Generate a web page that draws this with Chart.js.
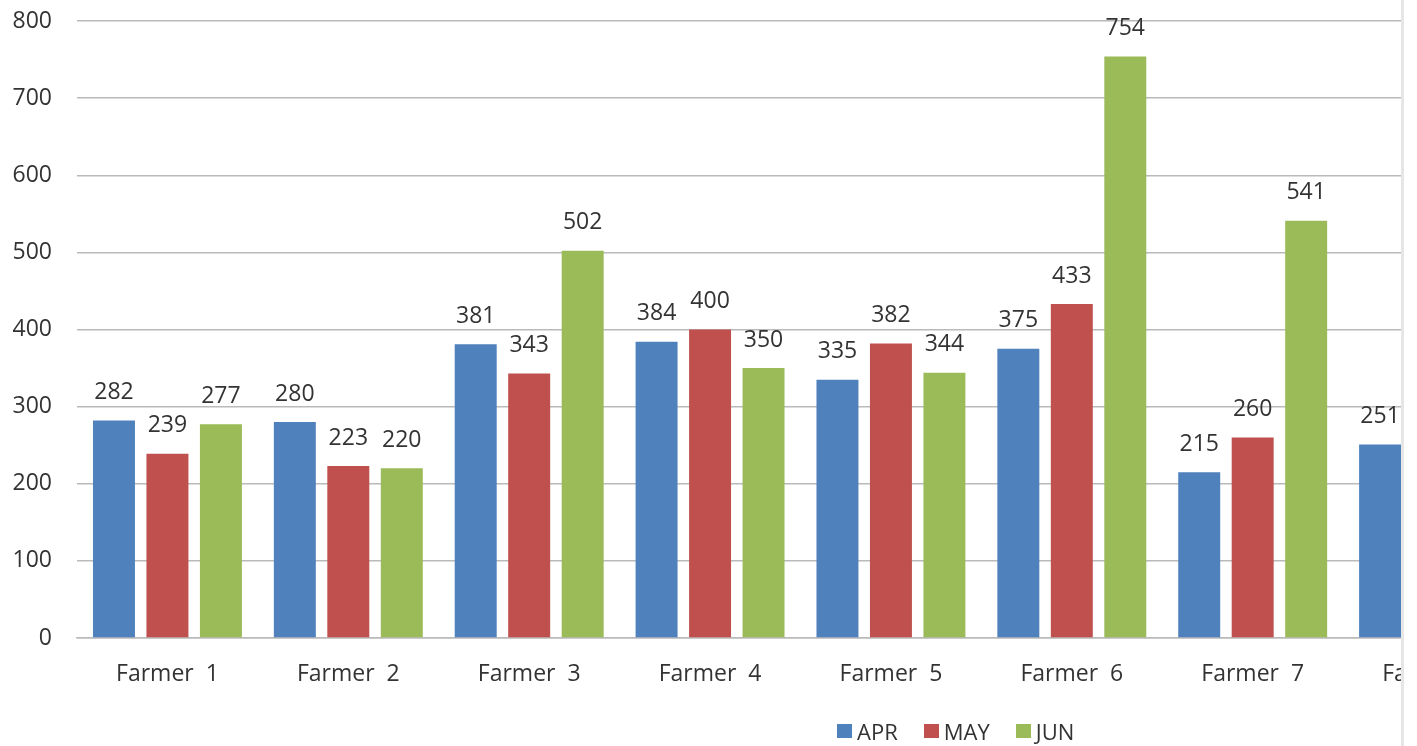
<!DOCTYPE html>
<html>
<head>
<meta charset="utf-8">
<script src="https://cdn.jsdelivr.net/npm/chart.js@4/dist/chart.umd.min.js"></script>
<style>
  body { margin: 0; background: #fff; }
  #wrap {
    position: relative; width: 1401px; height: 746px; overflow: hidden;
    border-right: 3px solid #e6e6e6; background: #fff;
  }
  #box { position: absolute; left: 0; top: 0; width: 1530px; height: 746px; }
  #legend {
    position: absolute; top: 716px; left: 837px; display: flex; align-items: center;
    font: 22px "Open Sans", sans-serif; color: #333;
  }
  #legend span.sw { display: inline-block; width: 15px; height: 14px; margin-right: 5px; }
  #legend .item { display: flex; align-items: center; margin-right: 26px; }
</style>
</head>
<body>
<div id="wrap">
  <div id="box"><canvas id="barChart" width="1530" height="746"></canvas></div>
  <div id="legend"></div>
</div>
<script>
// data (Farmer 8 is cut off at the right edge)
const farmers = ['Farmer  1', 'Farmer  2', 'Farmer  3', 'Farmer  4', 'Farmer  5', 'Farmer  6', 'Farmer  7', 'Farmer  8'];
const aprValues = [282, 280, 381, 384, 335, 375, 215, 251];
const mayValues = [239, 223, 343, 400, 382, 433, 260, null];
const junValues = [277, 220, 502, 350, 344, 754, 541, null];
const yTicks = [0, 100, 200, 300, 400, 500, 600, 700, 800];

const seriesNames = ['APR', 'MAY', 'JUN'];
const seriesColors = ['#4f81bd', '#c0504d', '#9bbb59'];
const textColor = '#333333';
const fontFamily = '"Open Sans", sans-serif';

// value labels above each bar
const barLabels = {
  id: 'barLabels',
  afterDatasetsDraw(chart) {
    const ctx = chart.ctx;
    ctx.save();
    ctx.font = '23px ' + fontFamily;
    ctx.fillStyle = textColor;
    ctx.textAlign = 'center';
    ctx.textBaseline = 'middle';
    chart.data.datasets.forEach((ds, i) => {
      chart.getDatasetMeta(i).data.forEach((bar, j) => {
        const v = ds.data[j];
        if (v == null) return;
        ctx.fillText(String(v), bar.x, bar.y - 28);
      });
    });
    ctx.restore();
  }
};

const ctx = document.getElementById('barChart');
new Chart(ctx, {
  type: 'bar',
  data: {
    labels: farmers,
    datasets: [
      { label: seriesNames[0], data: aprValues, backgroundColor: seriesColors[0] },
      { label: seriesNames[1], data: mayValues, backgroundColor: seriesColors[1] },
      { label: seriesNames[2], data: junValues, backgroundColor: seriesColors[2] }
    ]
  },
  options: {
    responsive: false,
    animation: false,
    datasets: { bar: { categoryPercentage: 0.887, barPercentage: 0.785 } },
    layout: { padding: { top: 21, right: 6, bottom: 0, left: 0 } },
    plugins: { legend: { display: false }, tooltip: { enabled: false } },
    scales: {
      x: {
        grid: { display: false, drawTicks: false },
        border: { display: true, color: '#bababa', width: 1.5 },
        ticks: { color: textColor, font: { family: fontFamily, size: 23 }, padding: 23, maxRotation: 0, autoSkip: false },
        afterFit: (scale) => { scale.height = 108; }
      },
      y: {
        min: 0, max: 800,
        afterBuildTicks: (scale) => { scale.ticks = yTicks.map(v => ({ value: v })); },
        grid: { color: '#bababa', lineWidth: 1.5, drawTicks: false },
        border: { display: false },
        ticks: { color: textColor, font: { family: fontFamily, size: 23 }, padding: 25 },
        afterFit: (scale) => {
          scale.width = 77;
          scale.paddingTop = 0;
          scale.paddingBottom = 0;
        }
      }
    }
  },
  plugins: [barLabels]
});

// legend drawn as html so it can sit where it does in the original
const legendEl = document.getElementById('legend');
seriesNames.forEach((name, i) => {
  const item = document.createElement('div');
  item.className = 'item';
  item.innerHTML = '<span class="sw" style="background:' + seriesColors[i] + '"></span>' + name;
  legendEl.appendChild(item);
});
</script>
</body>
</html>
